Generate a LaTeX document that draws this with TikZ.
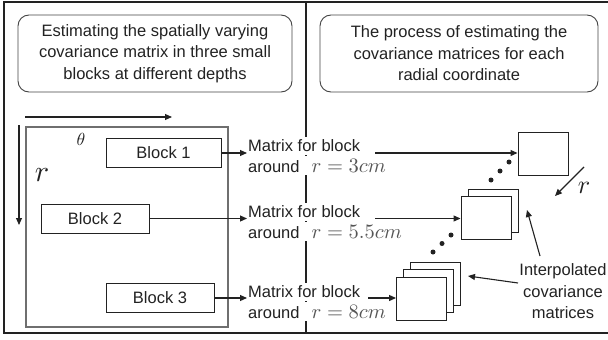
\documentclass[tikz,border=0pt]{standalone}
\usepackage{fontspec}
\usepackage{graphicx}
\setmainfont{Liberation Sans}
\usetikzlibrary{arrows.meta,calc}
\definecolor{ink}{HTML}{222222}
\definecolor{mathink}{HTML}{555555}
% math set at 10pt and enlarged as a box
\newcommand{\bigmath}[2]{{\normalsize\scalebox{#1}{$#2$}}}
\newcommand{\rval}[1]{\textcolor{mathink}{\bigmath{2.05}{r=#1}}}
\begin{document}
\begin{tikzpicture}[x=1pt,y=-1pt,
  every node/.style={font=\fontsize{16.5}{21.5}\selectfont, text=ink},
  titlebox/.style={draw=ink!85, line width=0.9pt, rounded corners=11pt, align=center,
    minimum height=77pt, inner sep=0pt},
  blockbox/.style={draw=ink, line width=0.9pt, minimum height=29pt, inner sep=0pt},
  matbox/.style={draw=ink, line width=0.9pt, fill=white, minimum width=50pt, minimum height=43pt, inner sep=0pt},
  txt/.style={anchor=base west, fill=white, inner xsep=1pt, inner ysep=3pt},
  arr/.style={draw=ink, line width=1.1pt, -{Triangle[length=7pt,width=6pt]}},
  dot/.style={circle, fill=ink, inner sep=0pt, minimum size=5pt}]
\useasboundingbox (0,0) rectangle (608,340);
% outer frame and the divider between the two panels
\draw[ink, line width=1.3pt] (610,2) -- (4,2) -- (4,333) -- (610,333);
\draw[ink, line width=1.3pt] (306,2) -- (306,333);

% panel titles
\node[titlebox, minimum width=274pt] (t1) at (155,53.5)
  {Estimating the spatially varying\\covariance matrix in three small\\blocks at different depths};
\node[titlebox, minimum width=278pt] (t2) at (459,53.5)
  {The process of estimating the\\covariance matrices for each\\radial coordinate};

% left panel: the imaged region with its polar axes
\node[draw=ink!65, line width=1.1pt, minimum width=202pt, minimum height=200pt, inner sep=0pt] (field) at (127,227) {};
\coordinate (th0) at (25,117);
\coordinate (th1) at (172,117);
\coordinate (r0) at (19,125);
\coordinate (r1) at (19,225);
\draw[arr] (th0) -- (th1);
\draw[arr] (r0) -- (r1);
\node (thlbl) at (81,139) {\bigmath{1.75}{\theta}};
\node (rlbl) at (42,175) {\bigmath{3.0}{r}};

\node[blockbox, minimum width=115pt] (b1) at (163.5,153) {Block 1};
\node[blockbox, minimum width=108pt] (b2) at (95,218.5) {Block 2};
\node[blockbox, minimum width=108pt] (b3) at (160,298) {Block 3};

% matrix labels
\node[txt] (m1b) at (247,172) {around\hspace{12pt}\rval{3cm}};
\node[txt] (m1a) at (247,151.5) {Matrix for block};
\node[txt] (m2b) at (247,238) {around\hspace{12pt}\rval{5.5cm}};
\node[txt] (m2a) at (247,217.5) {Matrix for block};
\node[txt] (m3b) at (247,318) {around\hspace{12pt}\rval{8cm}};
\node[txt] (m3a) at (247,297.5) {Matrix for block};

\draw[arr] (b1.east) -- (b1.east -| m1a.west);
\draw[arr] (b2.east) -- (b2.east -| m2a.west);
\draw[arr] (b3.east) -- (b3.east -| m3a.west);

% right panel: covariance matrices along r
\node[matbox] (s1) at (543,153.5) {};
\node[matbox] (s2b) at (493,210.5) {};
\node[matbox] (s2) at (486,218) {};
\node[matbox] (s3c) at (435.5,283.5) {};
\node[matbox] (s3b) at (428.5,291) {};
\node[matbox] (s3) at (421.5,298.5) {};

\draw[arr] ($(m1a.east |- b1.east)+(14,0)$) -- (b1.east -| s1.west);
\draw[arr] ($(m2a.east |- b2.east)+(14,0)$) -- (b2.east -| s2.west);
\draw[arr] ($(m3a.east |- b3.east)+(7,0)$) -- (b3.east -| s3.west);

\node[dot] (d1) at (509,162) {};
\node[dot] (d2) at (500,171) {};
\node[dot] (d3) at (491,180) {};
\node[dot] (d4) at (451,235) {};
\node[dot] (d5) at (442,243.5) {};
\node[dot] (d6) at (433,252) {};

\coordinate (ra) at (584,167);
\coordinate (rb) at (555,196);
\draw[arr] (ra) -- (rb);
\node (rlbl2) at (584,188) {\bigmath{2.6}{r}};

\node[align=center] (interp) at (563,291.5) {Interpolated\\covariance\\matrices};
\coordinate (ia) at (540,256);
\coordinate (ib) at (527,210);
\coordinate (ic) at (518,283);
\coordinate (id) at (468,276);
\draw[arr] (ia) -- (ib);
\draw[arr] (ic) -- (id);
\end{tikzpicture}
\end{document}
